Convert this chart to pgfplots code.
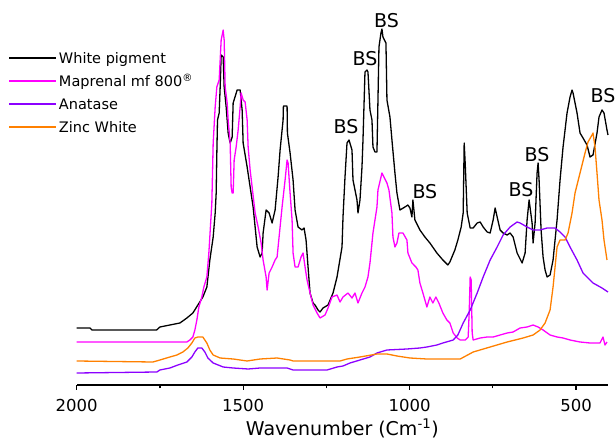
\documentclass[border=0pt]{standalone}
\usepackage{fontspec}
\setmainfont{DejaVu Sans}
\usepackage{pgfplots}
\pgfplotsset{compat=1.18}
\definecolor{cMag}{RGB}{255,0,255}
\definecolor{cPur}{RGB}{140,0,255}
\definecolor{cOra}{RGB}{255,128,0}
\begin{document}
\begin{tikzpicture}
\useasboundingbox (-76.7pt,-54pt) rectangle (539.3pt,385pt);
\begin{axis}[
  scale only axis, width=531.3pt, height=385pt,
  xmin=404, xmax=2000, ymin=0, ymax=385, x dir=reverse,
  axis x line*=bottom, axis y line=none,
  clip=false,
  xtick={500,1000,1500,2000}, minor xtick={750,1250,1750},
  tick align=outside, major tick length=5pt, minor tick length=3.5pt,
  tick style={line width=1.2pt, black},
  axis line style={line width=1.3pt},
  /pgf/number format/assume math mode=true,
  /pgf/number format/1000 sep={},
  xticklabel style={font=\fontsize{16.5}{18}\selectfont, anchor=base, yshift=-22pt},
  xlabel={Wavenumber (Cm\textsuperscript{-1})},
  xlabel style={font=\fontsize{19}{22}\selectfont, at={(axis description cs:0.5,-0.1305)}, anchor=base},
  legend style={at={(axis description cs:-0.1293,0.869)}, anchor=north west, draw=none, fill=none, inner sep=0pt,
    font=\fontsize{14.5}{17}\selectfont, nodes={inner sep=2pt, text height=11pt, text depth=4pt}, row sep=4pt},
  legend cell align=left,
  legend image code/.code={\draw[#1, line width=1.8pt] (0pt,2.5pt) -- (47pt,2.5pt);},
  every axis plot/.append style={line width=1.3pt, line join=round},
]
\addplot[black] coordinates {
(2000,57)(1960,57)(1954,55)(1760,55)(1750,58)(1720,60)(1690,62)(1669,67)(1651,72)(1636,80)(1621,88)(1609,98)
(1600,125)(1590,148)(1584,172)(1581,192)(1579,232)(1577,265)(1572,272)(1569,298)(1566,330)(1560,328)(1557,298)
(1551,278)(1545,252)(1539,242)(1533,248)(1530,282)(1518,295)(1509,295)(1503,275)(1500,242)(1488,218)(1479,198)
(1470,178)(1464,158)(1458,138)(1449,128)(1443,132)(1440,152)(1431,175)(1422,172)(1413,162)(1404,175)(1395,208)
(1389,235)(1380,265)(1379,279)(1368,279)(1367,252)(1359,232)(1350,205)(1344,175)(1335,158)(1323,155)(1317,157)
(1311,145)(1305,118)(1299,92)(1290,82)(1284,80)(1275,75)(1269,73)(1260,77)(1245,80)(1230,92)(1218,108)(1203,138)
(1200,168)(1194,208)(1188,242)(1182,245)(1173,235)(1170,205)(1164,195)(1158,185)(1155,172)(1149,185)(1143,218)
(1140,245)(1134,313)(1128,315)(1125,313)(1119,275)(1113,265)(1110,238)(1104,233)(1098,233)(1095,285)(1092,338)
(1086,352)(1083,356)(1080,348)(1071,342)(1068,285)(1059,268)(1053,245)(1044,212)(1038,192)(1029,175)(1014,178)
(1005,180)(999,177)(993,168)(990,185)(984,165)(969,155)(954,148)(939,142)(918,132)(900,125)(885,120)(879,123)
(864,135)(855,145)(845,158)(839,172)(836,242)(833,222)(827,172)(818,157)(809,157)(797,162)(788,163)(779,158)
(767,153)(758,152)(749,165)(743,177)(737,168)(728,155)(719,152)(707,150)(698,152)(689,148)(677,132)(662,122)
(653,132)(647,165)(641,185)(632,162)(629,142)(623,162)(617,212)(614,222)(611,205)(605,155)(599,128)(593,115)
(587,108)(578,110)(569,125)(557,165)(548,205)(539,238)(527,272)(518,288)(512,295)(509,292)(497,272)(488,252)
(479,247)(467,240)(458,228)(449,230)(437,252)(431,268)(422,275)(416,272)(407,255)(404,250)
};
\addlegendentry{White pigment}
\addplot[cMag] coordinates {
(2000,43)(1669,43)(1660,45)(1651,48)(1645,55)(1639,65)(1633,78)(1624,88)(1618,98)(1609,108)(1603,132)(1594,182)
(1590,242)(1584,278)(1579,298)(1572,305)(1566,345)(1560,355)(1557,345)(1554,298)(1548,282)(1545,265)(1539,242)
(1536,198)(1533,192)(1530,192)(1527,225)(1521,238)(1515,255)(1509,278)(1506,292)(1500,285)(1494,283)(1488,265)
(1485,238)(1479,215)(1473,198)(1464,172)(1455,158)(1446,142)(1440,125)(1431,108)(1428,95)(1422,112)(1413,118)
(1404,125)(1398,128)(1389,158)(1383,178)(1374,205)(1368,225)(1365,222)(1359,192)(1353,165)(1350,132)(1344,118)
(1335,118)(1326,128)(1320,132)(1314,118)(1308,105)(1299,92)(1290,80)(1278,72)(1269,67)(1254,70)(1245,77)
(1233,88)(1218,90)(1209,83)(1200,88)(1185,92)(1173,87)(1164,92)(1155,82)(1143,92)(1134,98)(1125,108)(1119,122)
(1110,152)(1098,178)(1095,195)(1083,212)(1077,208)(1068,202)(1062,195)(1053,172)(1050,148)(1044,138)(1038,142)
(1032,152)(1020,152)(1008,145)(1005,132)(993,122)(981,118)(975,115)(969,102)(960,92)(948,78)(939,88)(930,82)
(921,88)(912,82)(900,72)(888,65)(879,62)(869,52)(857,47)(848,45)(833,45)(824,48)(821,72)(818,108)(815,105)
(812,52)(809,45)(788,47)(767,48)(749,48)(728,50)(707,52)(689,53)(668,57)(647,58)(629,60)(614,58)(599,55)
(578,50)(557,48)(539,47)(518,45)(488,43)(458,42)(428,42)(419,48)(413,40)(407,43)
};
\addlegendentry{Maprenal mf 800\textsuperscript{\textregistered}}
\addplot[cPur] coordinates {
(2000,12)(1759,13)(1750,15)(1720,17)(1696,20)(1669,23)(1654,28)(1645,33)(1636,37)(1624,37)(1615,33)(1606,27)
(1590,22)(1560,18)(1530,17)(1485,16)(1449,17)(1368,17)(1350,15)(1248,15)(1218,18)(1200,19)(1179,22)(1149,25)
(1119,28)(1098,32)(1068,35)(1008,36)(969,37)(948,38)(918,40)(900,42)(869,45)(855,50)(839,62)(818,75)(797,92)
(779,108)(758,125)(737,138)(719,150)(698,158)(677,163)(668,162)(647,158)(629,155)(608,155)(587,157)(563,157)
(548,153)(533,148)(518,138)(497,125)(479,112)(449,102)(422,97)(404,93)
};
\addlegendentry{Anatase}
\addplot[cOra] coordinates {
(2000,24)(1771,23)(1750,25)(1720,28)(1699,30)(1681,33)(1666,37)(1654,42)(1645,47)(1636,48)(1621,48)(1609,42)
(1600,35)(1590,30)(1569,27)(1530,26)(1488,24)(1449,26)(1398,27)(1359,25)(1350,24)(1209,24)(1188,26)(1149,28)
(1098,31)(1068,31)(1038,29)(999,27)(948,26)(848,26)(809,33)(758,38)(707,43)(659,47)(629,50)(608,55)(593,62)
(578,75)(569,98)(563,118)(557,138)(548,145)(533,145)(524,152)(512,172)(503,192)(488,212)(473,232)(464,243)
(452,250)(449,252)(443,238)(437,212)(431,185)(422,165)(416,145)(407,125)
};
\addlegendentry{Zinc White}
\begin{scope}[every node/.style={font=\fontsize{19}{22}\selectfont, inner sep=0pt}]
\node at (axis cs:1069,364) {BS};
\node at (axis cs:1134,326) {BS};
\node at (axis cs:1191,258) {BS};
\node at (axis cs:954,193) {BS};
\node at (axis cs:665,195.5) {BS};
\node at (axis cs:617,230.5) {BS};
\node at (axis cs:419,289.5) {BS};
\end{scope}
\end{axis}
\end{tikzpicture}
\end{document}
